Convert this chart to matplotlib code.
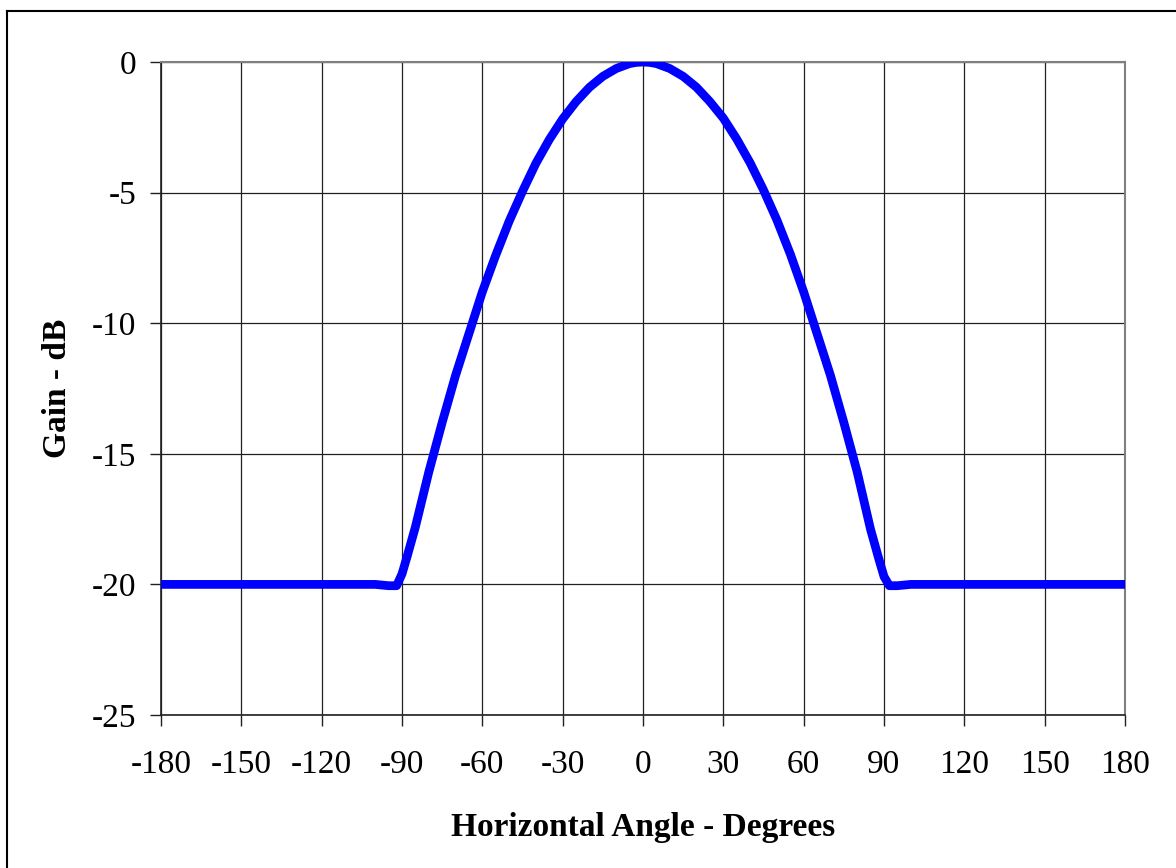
import matplotlib
matplotlib.use("Agg")
import matplotlib.pyplot as plt
from matplotlib.lines import Line2D

# horizontal antenna pattern
angles = [-180, -150, -120, -100, -95, -92, -90, -88, -85, -80, -75, -70, -65, -60, -55, -50,
          -45, -40, -35, -30, -25, -20, -15, -10, -5, -2.5, 0,
          2.5, 5, 10, 15, 20, 25, 30, 35, 40, 45, 50, 55, 60, 65, 70, 75, 80, 85, 88, 90,
          92, 95, 100, 120, 150, 180]
gain_db = [-20, -20, -20, -20, -20.05, -20.05, -19.6, -18.9, -17.8, -15.7, -13.8, -12.0, -10.4, -8.8, -7.4, -6.1,
           -4.95, -3.88, -2.97, -2.18, -1.52, -0.97, -0.55, -0.25, -0.06, -0.015, 0,
           -0.015, -0.06, -0.25, -0.55, -0.97, -1.52, -2.15, -2.95, -3.86, -4.9, -6.05, -7.35, -8.8, -10.4, -12.0, -13.8, -15.7, -17.9, -19.0, -19.7,
           -20.05, -20.05, -20, -20, -20, -20]

xticks = list(range(-180, 181, 30))
yticks = [0, -5, -10, -15, -20, -25]

plt.rcParams['font.family'] = ['Liberation Serif', 'DejaVu Serif']

fig = plt.figure(figsize=(11.76, 8.68), dpi=100)
ax = fig.add_axes([161/1176, 1 - 715/868, 964/1176, 653/868])

ax.plot(angles, gain_db, color='#0000ff', lw=6.3, solid_capstyle='butt', solid_joinstyle='round', zorder=3)

ax.set_xlim(-180, 180)
ax.set_ylim(-25, 0)
ax.set_xticks(xticks)
ax.set_yticks(yticks)
ax.set_xticklabels([str(t) for t in xticks])
ax.set_yticklabels([str(t) for t in yticks])
ax.grid(True, color='#202020', lw=0.9)
ax.set_axisbelow(True)

ax.tick_params(axis='both', direction='out', length=8, width=1.0, color='#202020', labelsize=24)
ax.tick_params(axis='x', pad=17)
ax.tick_params(axis='y', pad=10)

for s in ['left', 'bottom']:
    ax.spines[s].set_color('#202020')
    ax.spines[s].set_linewidth(1.2)
for s in ['top', 'right']:
    ax.spines[s].set_color('#808080')
    ax.spines[s].set_linewidth(1.5)

ax.set_xlabel('Horizontal Angle - Degrees', fontsize=24, fontweight='bold', labelpad=23)
ax.set_ylabel('Gain - dB', fontsize=24, fontweight='bold', labelpad=13)

# chart border (only top and left visible, rest cropped off)
bx, by = 6.5/1176, 1 - 10.5/868
fig.lines.append(Line2D([bx, 1], [by, by], transform=fig.transFigure, color='black', lw=1.5))
fig.lines.append(Line2D([bx, bx], [0, by], transform=fig.transFigure, color='black', lw=1.5))

fig.savefig('out.png', dpi=100)
